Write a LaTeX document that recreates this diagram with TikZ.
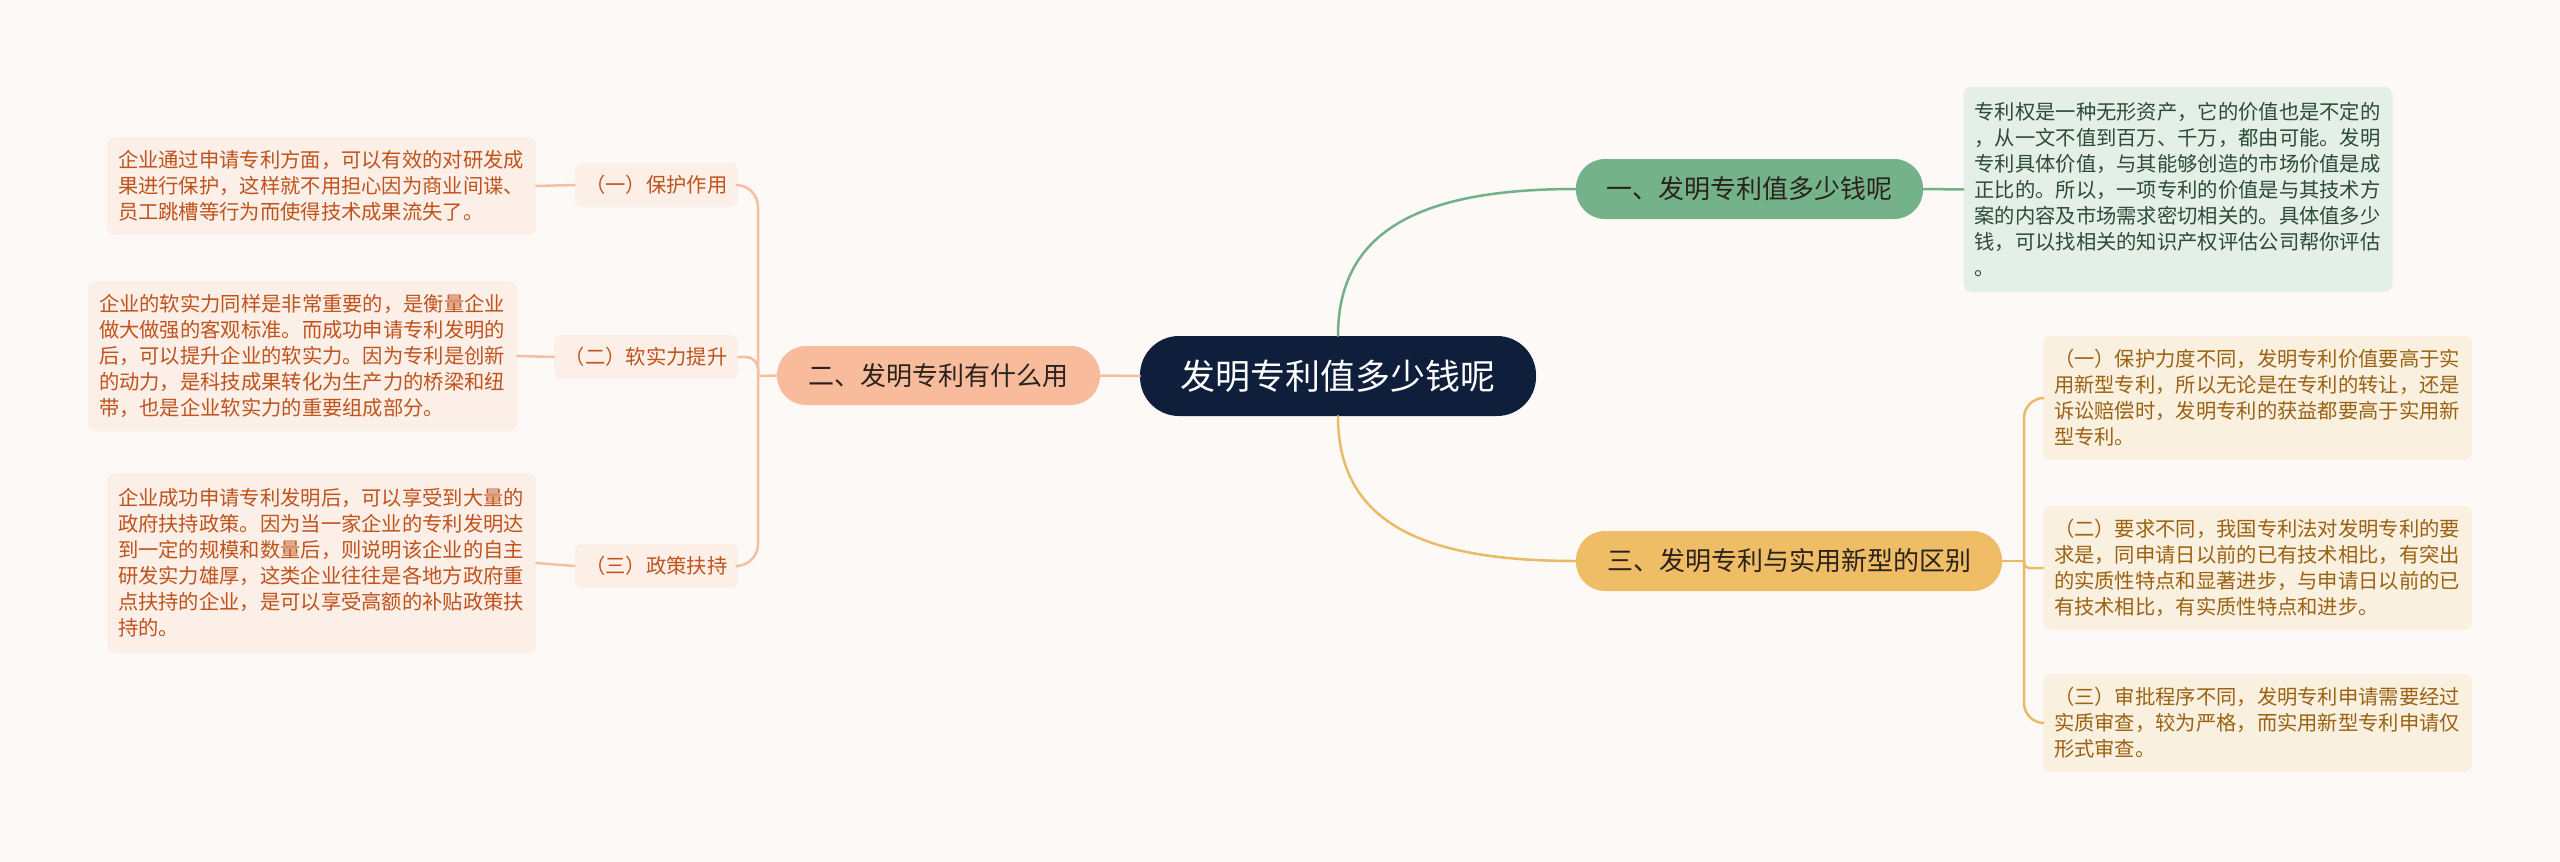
\documentclass[tikz,border=0pt]{standalone}
\usepackage{fontspec}
\setmainfont{Noto Sans CJK SC}
\definecolor{bg}{HTML}{FDF9F7}
\definecolor{navy}{HTML}{0F1F3B}
\definecolor{greenB}{HTML}{74B38A}
\definecolor{greenLine}{HTML}{72B08A}
\definecolor{greenBox}{HTML}{E3EFE7}
\definecolor{greenText}{HTML}{2D4B37}
\definecolor{salmon}{HTML}{F8BC9C}
\definecolor{salmonLine}{HTML}{F4BFA2}
\definecolor{peach}{HTML}{FCEFE7}
\definecolor{orangeText}{HTML}{C0521C}
\definecolor{gold}{HTML}{EFBD65}
\definecolor{goldLine}{HTML}{E9BB66}
\definecolor{goldBox}{HTML}{FAF0E0}
\definecolor{goldText}{HTML}{9A6212}
\definecolor{darkText}{HTML}{2A221C}
\begin{document}
\begin{tikzpicture}[x=1pt,y=-1pt,
  pill/.style={rounded corners=29pt, minimum height=60pt, inner xsep=0pt, inner ysep=0pt, text=darkText, font=\fontsize{26}{30}\selectfont},
  subnode/.style={rounded corners=7pt, fill=peach, text=orangeText, minimum height=44pt, inner xsep=10.5pt, inner ysep=0pt, anchor=east, font=\fontsize{20.3}{26}\selectfont},
  detail/.style={rounded corners=8pt, inner xsep=11pt, inner ysep=4pt, text width=407pt, align=left, font=\fontsize{20.3}{26}\selectfont},
  leftdetail/.style={detail, fill=peach, text=orangeText},
  golddetail/.style={detail, fill=goldBox, text=goldText},
  conn/.style={line width=2.5pt, line cap=round}
]
\useasboundingbox (0,0) rectangle (2560,862);
\fill[bg] (0,0) rectangle (2560,862);

% centre
\node[fill=navy, text=white, rounded corners=39pt, minimum height=80pt, minimum width=396pt, inner sep=0pt, font=\fontsize{35}{40}\selectfont] (c) at (1338,376) {发明专利值多少钱呢};

% branches
\node[pill, fill=greenB, minimum width=347pt] (b1) at (1749.5,189) {一、发明专利值多少钱呢};
\node[pill, fill=salmon, minimum width=323pt, minimum height=59pt] (b2) at (938.5,375.5) {二、发明专利有什么用};
\node[pill, fill=gold, minimum width=426pt] (b3) at (1789,561) {三、发明专利与实用新型的区别};

% green detail
\node[detail, fill=greenBox, text=greenText, minimum height=205pt] (g0) at (2178,189.5) {专利权是一种无形资产，它的价值也是不定的\\，从一文不值到百万、千万，都由可能。发明\\专利具体价值，与其能够创造的市场价值是成\\正比的。所以，一项专利的价值是与其技术方\\案的内容及市场需求密切相关的。具体值多少\\钱，可以找相关的知识产权评估公司帮你评估\\。};

% left sub nodes
\node[subnode] (s1) at (738,185) {（一）保护作用};
\node[subnode] (s2) at (738,357) {（二）软实力提升};
\node[subnode] (s3) at (738,566) {（三）政策扶持};

% left details
\node[leftdetail, minimum height=98pt] (d1) at (321.5,186) {企业通过申请专利方面，可以有效的对研发成\\果进行保护，这样就不用担心因为商业间谍、\\员工跳槽等行为而使得技术成果流失了。};
\node[leftdetail, minimum height=150pt] (d2) at (302.5,356) {企业的软实力同样是非常重要的，是衡量企业\\做大做强的客观标准。而成功申请专利发明的\\后，可以提升企业的软实力。因为专利是创新\\的动力，是科技成果转化为生产力的桥梁和纽\\带，也是企业软实力的重要组成部分。};
\node[leftdetail, minimum height=180pt] (d3) at (321.5,563) {企业成功申请专利发明后，可以享受到大量的\\政府扶持政策。因为当一家企业的专利发明达\\到一定的规模和数量后，则说明该企业的自主\\研发实力雄厚，这类企业往往是各地方政府重\\点扶持的企业，是可以享受高额的补贴政策扶\\持的。};

% gold details
\node[golddetail, minimum height=124pt] (e1) at (2257.5,398) {（一）保护力度不同，发明专利价值要高于实\\用新型专利，所以无论是在专利的转让，还是\\诉讼赔偿时，发明专利的获益都要高于实用新\\型专利。};
\node[golddetail, minimum height=124pt] (e2) at (2257.5,568) {（二）要求不同，我国专利法对发明专利的要\\求是，同申请日以前的已有技术相比，有突出\\的实质性特点和显著进步，与申请日以前的已\\有技术相比，有实质性特点和进步。};
\node[golddetail, minimum height=98pt] (e3) at (2257.5,723) {（三）审批程序不同，发明专利申请需要经过\\实质审查，较为严格，而实用新型专利申请仅\\形式审查。};

\coordinate (jl) at (758,376);
\coordinate (jr) at (2024,561);

% connectors
\draw[conn, greenLine] (c.north) .. controls (1338,225) and (1430,189) .. (b1.west);
\draw[conn, greenLine] (b1.east) -- (g0.west);
\draw[conn, goldLine] (c.south) .. controls (1338,527) and (1430,561) .. (b3.west);
\draw[conn, salmonLine] (c.west) -- (b2.east);

\draw[conn, salmonLine] (b2.west) -- (jl);
\draw[conn, salmonLine, rounded corners=22pt] (jl) |- (s1.east);
\draw[conn, salmonLine, rounded corners=12pt] (jl) |- (s2.east);
\draw[conn, salmonLine, rounded corners=22pt] (jl) |- (s3.east);
\draw[conn, salmonLine] (d1.east) -- (s1.west);
\draw[conn, salmonLine] (d2.east) -- (s2.west);
\draw[conn, salmonLine] (d3.east) -- (s3.west);

\draw[conn, goldLine] (b3.east) -- (jr);
\draw[conn, goldLine, rounded corners=20pt] (jr) |- (e1.west);
\draw[conn, goldLine, rounded corners=5pt] (jr) |- (e2.west);
\draw[conn, goldLine, rounded corners=20pt] (jr) |- (e3.west);
\end{tikzpicture}
\end{document}
